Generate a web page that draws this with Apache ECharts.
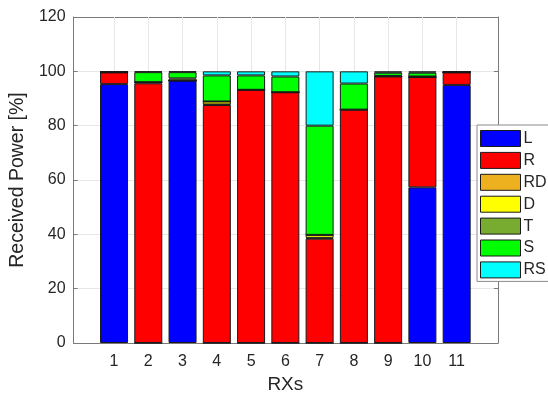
<!DOCTYPE html>
<html>
<head>
<meta charset="utf-8">
<script src="https://cdn.jsdelivr.net/npm/echarts@6/dist/echarts.min.js"></script>
<style>
  html, body { margin: 0; padding: 0; background: #fff; }
  #chart { width: 548px; height: 399px; }
</style>
</head>
<body>
<div id="chart"></div>
<script>
// receivers on the x axis
const rxs = ['1', '2', '3', '4', '5', '6', '7', '8', '9', '10', '11']

// share of received power per path type [%]
const L  = [95.3, 0, 96.6, 0, 0, 0, 0, 0, 0, 57.3, 95.0]
const R  = [4.3, 95.6, 0, 87.6, 93.2, 92.3, 38.4, 85.9, 98.1, 40.6, 4.6]
const RD = [0, 0.4, 0, 0.2, 0, 0, 0.3, 0, 0, 0, 0]
const D  = [0, 0, 0, 1.1, 0, 0, 1.1, 0, 0, 0, 0]
const T  = [0.2, 0, 0.8, 0, 0, 0, 0, 0, 0.2, 0.2, 0.2]
const S  = [0, 3.7, 2.3, 9.6, 5.3, 5.8, 40.2, 9.6, 1.2, 1.4, 0]
const RS = [0.2, 0.3, 0.3, 1.5, 1.5, 1.9, 20.0, 4.5, 0.5, 0.5, 0.2]

const seriesNames = ['L', 'R', 'RD', 'D', 'T', 'S', 'RS']
const seriesValues = [L, R, RD, D, T, S, RS]
const seriesColors = ['#0000ff', '#ff0000', '#edb120', '#ffff00', '#77ac30', '#00ff00', '#00ffff']

const font = "'Liberation Sans', Arial, sans-serif"
const axisColor = '#7a7a7a'
const textColor = '#262626'
const gridColor = '#e6e6e6'

const chart = echarts.init(document.getElementById('chart'), null, {renderer: 'canvas'})

// grid 0: the axes box, y ticks and horizontal lines
// grid 1: the bars (bands of one receiver each)
const series = seriesNames.map((name, i) => ({
  name,
  type: 'bar',
  stack: 'total',
  xAxisIndex: 2,
  yAxisIndex: 2,
  barWidth: 28,
  z: 3,
  data: seriesValues[i],
  itemStyle: {
    color: seriesColors[i],
    borderColor: '#1a1a1a',
    borderWidth: 1,
  },
}))

// vertical grid lines at every receiver
series.push({
  name: 'vgrid',
  type: 'line',
  xAxisIndex: 2,
  yAxisIndex: 2,
  data: [],
  silent: true,
  markLine: {
    silent: true,
    symbol: 'none',
    z: 1,
    label: {show: false},
    lineStyle: {color: gridColor, width: 1, type: 'solid'},
    data: rxs.map(x => ({xAxis: x})),
  },
})

const frameLine = {show: true, onZero: false, lineStyle: {color: axisColor, width: 1}}
const inTick = {show: true, inside: true, length: 4, alignWithLabel: true, lineStyle: {color: axisColor}}

chart.setOption({
  animation: false,
  textStyle: {fontFamily: font},
  grid: [
    {left: 72, right: 50, top: 17, bottom: 56},
    {left: 96.9, right: 74.2, top: 17, bottom: 56},
  ],
  legend: {
    data: seriesNames,
    orient: 'vertical',
    left: 477,
    top: 125,
    itemWidth: 40,
    itemHeight: 16,
    itemGap: 4.9,
    padding: [5, 40, 3, 3],
    backgroundColor: '#fff',
    borderColor: '#8a8a8a',
    borderWidth: 1,
    borderRadius: 0,
    icon: 'rect',
    z: 10,
    textStyle: {fontSize: 16, lineHeight: 16, color: textColor, fontFamily: font, padding: [0, 0, 0, -2]},
    itemStyle: {borderColor: '#1a1a1a', borderWidth: 1},
  },
  xAxis: [
    {gridIndex: 0, type: 'value', min: 0, max: 1, position: 'bottom', axisLine: frameLine,
      axisTick: {show: false}, axisLabel: {show: false}, splitLine: {show: false}},
    {gridIndex: 0, type: 'value', min: 0, max: 1, position: 'top', axisLine: frameLine,
      axisTick: {show: false}, axisLabel: {show: false}, splitLine: {show: false}},
    {
      gridIndex: 1,
      type: 'category',
      data: rxs,
      position: 'bottom',
      name: 'RXs',
      nameLocation: 'middle',
      nameGap: 31,
      nameTextStyle: {fontSize: 19, color: textColor, fontFamily: font},
      axisLine: {show: false},
      axisTick: inTick,
      axisLabel: {margin: 11, fontSize: 16, color: textColor, fontFamily: font},
      splitLine: {show: false},
    },
    {
      gridIndex: 1,
      type: 'category',
      data: rxs,
      position: 'top',
      axisLine: {show: false},
      axisTick: inTick,
      axisLabel: {show: false},
      splitLine: {show: false},
    },
  ],
  yAxis: [
    {
      gridIndex: 0,
      type: 'value',
      min: 0,
      max: 120,
      interval: 20,
      name: 'Received Power [%]',
      nameLocation: 'middle',
      nameGap: 40,
      nameTextStyle: {fontSize: 19.5, color: textColor, fontFamily: font},
      axisLine: frameLine,
      axisTick: {show: true, inside: true, length: 4, lineStyle: {color: axisColor}},
      axisLabel: {margin: 8, fontSize: 16, color: textColor, fontFamily: font},
      splitLine: {show: true, lineStyle: {color: gridColor, width: 1}},
    },
    {
      gridIndex: 0,
      type: 'value',
      min: 0,
      max: 120,
      interval: 20,
      position: 'right',
      axisLine: frameLine,
      axisTick: {show: true, inside: true, length: 4, lineStyle: {color: axisColor}},
      axisLabel: {show: false},
      splitLine: {show: false},
    },
    {
      gridIndex: 1,
      type: 'value',
      min: 0,
      max: 120,
      show: false,
    },
  ],
  series,
})
</script>
</body>
</html>
